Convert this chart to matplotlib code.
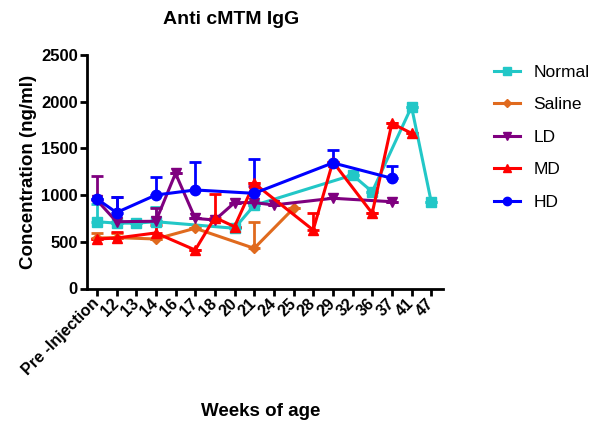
import numpy as np
import matplotlib
matplotlib.use("Agg")
import matplotlib.pyplot as plt

nan = np.nan
categories = ["Pre -Injection", "12", "13", "14", "16", "17", "18", "20", "21",
              "24", "25", "28", "29", "32", "36", "37", "41", "47"]

#                 Pre   12   13   14   16    17   18   20   21    24   25   28   29    32    36    37    41    47
normal_vals = [715, 700, 700, 715, nan, nan, nan, 645, 890, nan, nan, nan, nan, 1215, 1036, nan, 1946, 929]
normal_err  = [185, 0,   0,   160, nan, nan, nan, 0,   0,   nan, nan, nan, nan, 0,    0,    nan, 0,    0]
saline_vals = [540, 545, nan, 530, nan, 645, nan, nan, 430, nan, 858, nan, nan, nan, nan, nan, nan, nan]
saline_err  = [55,  50,  nan, 0,   nan, 0,   nan, nan, 285, nan, 0,   nan, nan, nan, nan, nan, nan, nan]
ld_vals     = [947, 715, nan, 720, 1233, 751, 733, 919, 920, 894, nan, nan, 966, nan, nan, 929, nan, nan]
ld_err      = [255, 270, nan, 140, 0,    0,   0,   0,   180, 0,   nan, nan, 0,   nan, nan, 0,   nan, nan]
md_vals     = [530, 540, nan, 595, nan, 412, 760, 662, 1126, nan, nan, 626, 1357, nan, 805, 1768, 1662, nan]
md_err      = [0,   70,  nan, 85,  nan, 0,   255, 0,   0,    nan, nan, 180, 0,    nan, 0,   0,    0,    nan]
hd_vals     = [960, 813, nan, 1001, nan, 1055, nan, nan, 1019, nan, nan, nan, 1345, nan, nan, 1180, nan, nan]
hd_err      = [0,   170, nan, 196,  nan, 302,  nan, nan, 367,  nan, nan, nan, 138,  nan, nan, 132,  nan, nan]

series = [
    ("Normal", normal_vals, normal_err, "#22C7C7", "s", 6.5),
    ("Saline", saline_vals, saline_err, "#E06A1E", "D", 5),
    ("LD", ld_vals, ld_err, "#7F007F", "v", 7.5),
    ("MD", md_vals, md_err, "#FF0000", "^", 7.5),
    ("HD", hd_vals, hd_err, "#0000FF", "o", 7.5),
]

plt.rcParams['font.family'] = ['Liberation Sans', 'DejaVu Sans']
fig = plt.figure(figsize=(5.95, 4.3), dpi=100)
ax = fig.add_axes([87/595, 1-288.5/430, (443-87)/595, (288.5-55)/430])

x_all = np.arange(len(categories))
order = [1, 2, 3, 0, 4]
handles = {}
for idx in order:
    name, vals, err, col, mk, ms = series[idx]
    v = np.array(vals, dtype=float)
    e = np.array(err, dtype=float)
    m = ~np.isnan(v)
    xs, ys, es = x_all[m], v[m], e[m]
    es = np.nan_to_num(es)
    ax.errorbar(xs, ys, yerr=[np.zeros_like(es), es], fmt='none', ecolor=col,
                elinewidth=2, capsize=4.5, capthick=2, zorder=2 + idx * 0.1)
    ln, = ax.plot(xs, ys, color=col, lw=2.2, marker=mk, ms=ms, mec=col, mfc=col,
                  label=name, zorder=3 + idx * 0.1)
    handles[name] = ln

ax.set_xlim(-0.5, 17.6)
ax.set_ylim(0, 2500)
ax.set_yticks([0, 500, 1000, 1500, 2000, 2500])
ax.set_xticks(x_all)
ax.set_xticklabels(categories, rotation=45, ha='right', va='center',
                   rotation_mode='anchor', fontsize=11.5, fontweight='bold')
for lab in ax.get_yticklabels():
    lab.set_fontweight('bold')
    lab.set_fontsize(12)
for s in ['top', 'right']:
    ax.spines[s].set_visible(False)
for s in ['left', 'bottom']:
    ax.spines[s].set_linewidth(2)
ax.tick_params(axis='y', direction='out', length=5, width=2, pad=1.5)
ax.tick_params(axis='x', direction='out', length=5, width=2, pad=4)

ax.set_ylabel("Concentration (ng/ml)", fontsize=13.5, fontweight='bold', labelpad=3)
fig.text(261/595, 1-412/430, "Weeks of age", ha='center', va='center',
         fontsize=13.5, fontweight='bold')
fig.text(231/595, 1-19/430, "Anti cMTM IgG", ha='center', va='center',
         fontsize=14, fontweight='bold')

names = ["Normal", "Saline", "LD", "MD", "HD"]
ax.legend([handles[n] for n in names], names, loc='upper left',
          bbox_to_anchor=(478/595, 1-49/430), bbox_transform=fig.transFigure,
          frameon=False, fontsize=12.5, handlelength=1.5, labelspacing=1.0,
          handletextpad=0.8, markerscale=0.8)

fig.savefig("out.png", dpi=100)
